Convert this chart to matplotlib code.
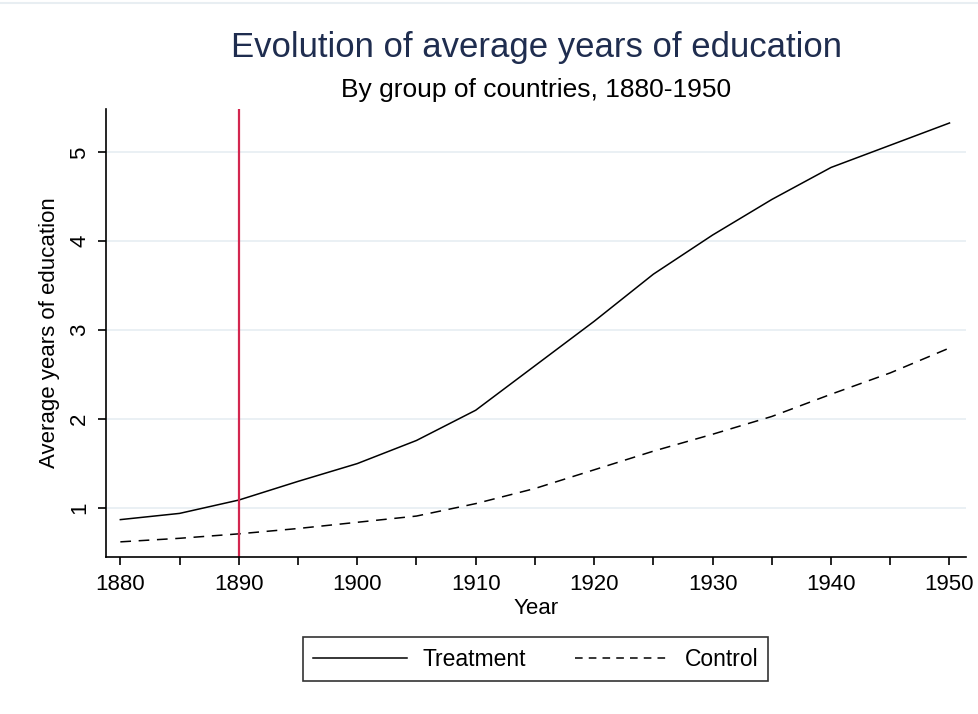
import numpy as np
import matplotlib.pyplot as plt
from matplotlib.lines import Line2D

plt.rcParams['font.family'] = ['Liberation Sans', 'DejaVu Sans']

# data
years = [1880, 1885, 1890, 1895, 1900, 1905, 1910, 1915, 1920, 1925, 1930, 1935, 1940, 1945, 1950]
treatment = [0.87, 0.94, 1.09, 1.30, 1.50, 1.76, 2.10, 2.60, 3.10, 3.63, 4.07, 4.47, 4.83, 5.08, 5.33]
control = [0.62, 0.66, 0.71, 0.77, 0.84, 0.91, 1.05, 1.22, 1.43, 1.64, 1.83, 2.03, 2.28, 2.52, 2.80]
event_year = 1890

title = 'Evolution of average years of education'
subtitle = 'By group of countries, 1880-1950'

fig = plt.figure(figsize=(9.79, 7.14), dpi=100)
ax = fig.add_axes([0.1078, 0.2203, 0.879, 0.627])

ax.plot(years, treatment, color='black', lw=1.1, label='Treatment')
ax.plot(years, control, color='black', lw=1.1, ls=(0, (7, 5)), label='Control')
ax.axvline(event_year, color='#d3264f', lw=1.6)

ax.set_xlim(1878.75, 1951.4)
ax.set_ylim(0.453, 5.487)
ax.set_xticks(np.arange(1880, 1951, 5))
ax.set_xticklabels([str(y) if y % 10 == 0 else '' for y in range(1880, 1951, 5)])
ax.set_yticks([1, 2, 3, 4, 5])
ax.tick_params(axis='both', length=6, width=1.2, labelsize=16, colors='black')
ax.tick_params(axis='x', pad=6.5)
ax.tick_params(axis='y', labelrotation=90, pad=5)
for lbl in ax.get_yticklabels():
    lbl.set_va('center')
ax.grid(axis='y', color='#e6eef2', lw=1.2)
ax.set_axisbelow(True)
for s in ['top', 'right']:
    ax.spines[s].set_visible(False)
for s in ['left', 'bottom']:
    ax.spines[s].set_linewidth(1.2)

ax.set_xlabel('Year', fontsize=16, labelpad=2)
ax.set_ylabel('Average years of education', fontsize=16, labelpad=7)

fig.text(0.548, 0.934, title, ha='center', va='center', fontsize=25, color='#1f2d4f')
fig.text(0.548, 0.874, subtitle, ha='center', va='center', fontsize=19, color='black')

handles = [Line2D([], [], color='black', lw=1.1),
           Line2D([], [], color='black', lw=1.1, ls=(0, (5, 4)))]
leg = fig.legend(handles, ['Treatment', 'Control'], loc='center', bbox_to_anchor=(0.547, 0.077),
                 ncol=2, fontsize=16.5, frameon=True, fancybox=False, edgecolor='black',
                 handlelength=4.1, handletextpad=0.7, columnspacing=2.1, borderpad=0.45,
                 borderaxespad=0)
leg.get_frame().set_linewidth(1.2)

fig.add_artist(Line2D([0, 1], [0.996, 0.996], color='#e8eef2', lw=1.5, transform=fig.transFigure))

fig.savefig('out.png', dpi=100)
